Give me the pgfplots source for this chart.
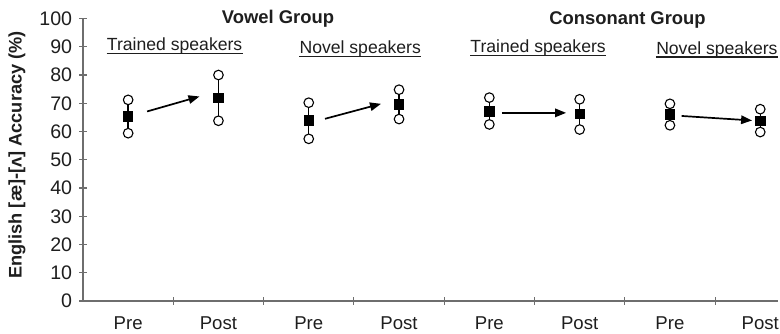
\documentclass[border=0pt]{standalone}
\usepackage{fontspec}
\setmainfont{Liberation Sans}
\usepackage{pgfplots}
\usepackage{pgfplotstable}
\pgfplotsset{compat=1.18}
\usetikzlibrary{arrows.meta}
\definecolor{axisgray}{RGB}{110,110,110}
\definecolor{txt}{RGB}{30,30,30}

\pgfplotstableread{
x lo m hi
0 59.4 65.3 71.2
1 63.8 71.9 80.0
2 57.4 63.9 70.2
3 64.4 69.6 74.8
4 62.5 67.1 72.0
5 60.7 66.2 71.4
6 62.2 66.0 69.8
7 59.8 63.8 67.9
}\data

\begin{document}
\begin{tikzpicture}
\useasboundingbox (-41.5pt,-16pt) rectangle (348.5pt,150.5pt);
\begin{axis}[
  at={(0,0)}, anchor=south west,
  scale only axis,
  width=347.65pt, height=141.25pt,
  xmin=-0.5, xmax=7.2,
  ymin=0, ymax=100,
  clip=false,
  axis lines=left,
  axis line style={-, axisgray, line width=0.7pt},
  x axis line style={-}, y axis line style={-},
  tick align=center,
  tick style={axisgray, line width=0.6pt},
  major tick length=3.8pt,
  minor tick length=3.8pt,
  xtick={0,...,7},
  xticklabels={Pre,Post,Pre,Post,Pre,Post,Pre,Post},
  x tick style={draw=none},
  minor xtick={0.5,1.5,2.5,3.5,4.5,5.5,6.5},
  minor x tick style={draw=axisgray, line width=0.6pt},
  ytick={0,10,...,100},
  /pgf/number format/assume math mode=true,
  tick label style={text=txt},
  yticklabel style={font=\fontsize{9.8}{11}\selectfont},
  xticklabel style={yshift=-2.5pt, font=\fontsize{9.3}{11}\selectfont},
  every axis y label/.style={at={(axis description cs:0,0.517)}, xshift=-33pt, rotate=90, anchor=center},
  ylabel={English [æ]-[ʌ] Accuracy (\%)},
  ylabel style={font=\bfseries\fontsize{9.1}{10}\selectfont, text=txt},
]
% error bars (vertical lines)
\addplot[only marks, mark=square*, mark size=2.35pt, black,
  error bars/.cd, y dir=both, y explicit, error mark=none,
  error bar style={black, line width=0.7pt}]
  table[x=x, y=m, y error plus expr=\thisrow{hi}-\thisrow{m}, y error minus expr=\thisrow{m}-\thisrow{lo}] {\data};
% circles
\addplot[only marks, mark=*, mark size=2.4pt, mark options={fill=white, draw=black, line width=0.55pt}]
  table[x=x, y=lo] {\data};
\addplot[only marks, mark=*, mark size=2.4pt, mark options={fill=white, draw=black, line width=0.55pt}]
  table[x=x, y=hi] {\data};
% means on top
\addplot[only marks, mark=square*, mark size=2.35pt, black] table[x=x, y=m] {\data};
% arrows
\addplot[black, line width=0.85pt, -{Triangle[length=5.5pt,width=4.2pt]}] coordinates {(0.21,67.1) (0.79,72.4)};
\addplot[black, line width=0.85pt, -{Triangle[length=5.5pt,width=4.2pt]}] coordinates {(2.18,64.5) (2.80,69.8)};
\addplot[black, line width=0.85pt, -{Triangle[length=5.5pt,width=4.2pt]}] coordinates {(4.14,66.6) (4.85,66.6)};
\addplot[black, line width=0.85pt, -{Triangle[length=5.5pt,width=4.2pt]}] coordinates {(6.13,65.5) (6.91,63.9)};
% titles
\node[anchor=base, inner sep=0, text=txt, font=\bfseries\fontsize{9.2}{10}\selectfont] at (axis cs:1.66,98.1) {Vowel Group};
\node[anchor=base, inner sep=0, text=txt, font=\bfseries\fontsize{9.2}{10}\selectfont] at (axis cs:5.53,97.8) {Consonant Group};
\node[anchor=base, inner sep=0, text=txt, font=\fontsize{8.8}{10}\selectfont] (t1) at (axis cs:0.515,88.65) {Trained speakers};
\node[anchor=base, inner sep=0, text=txt, font=\fontsize{8.8}{10}\selectfont] (t2) at (axis cs:2.57,87.5) {Novel speakers};
\node[anchor=base, inner sep=0, text=txt, font=\fontsize{8.8}{10}\selectfont] (t3) at (axis cs:4.54,87.9) {Trained speakers};
\node[anchor=base, inner sep=0, text=txt, font=\fontsize{8.8}{10}\selectfont] (t4) at (axis cs:6.52,87.4) {Novel speakers};
\draw[txt, line width=0.75pt] ([yshift=-1.4pt]t1.base west) -- ([yshift=-1.4pt]t1.base east);
\draw[txt, line width=0.75pt] ([yshift=-1.4pt]t2.base west) -- ([yshift=-1.4pt]t2.base east);
\draw[txt, line width=0.75pt] ([yshift=-1.4pt]t3.base west) -- ([yshift=-1.4pt]t3.base east);
\draw[txt, line width=0.75pt] ([yshift=-1.4pt]t4.base west) -- ([yshift=-1.4pt]t4.base east);
\end{axis}
\end{tikzpicture}
\end{document}
